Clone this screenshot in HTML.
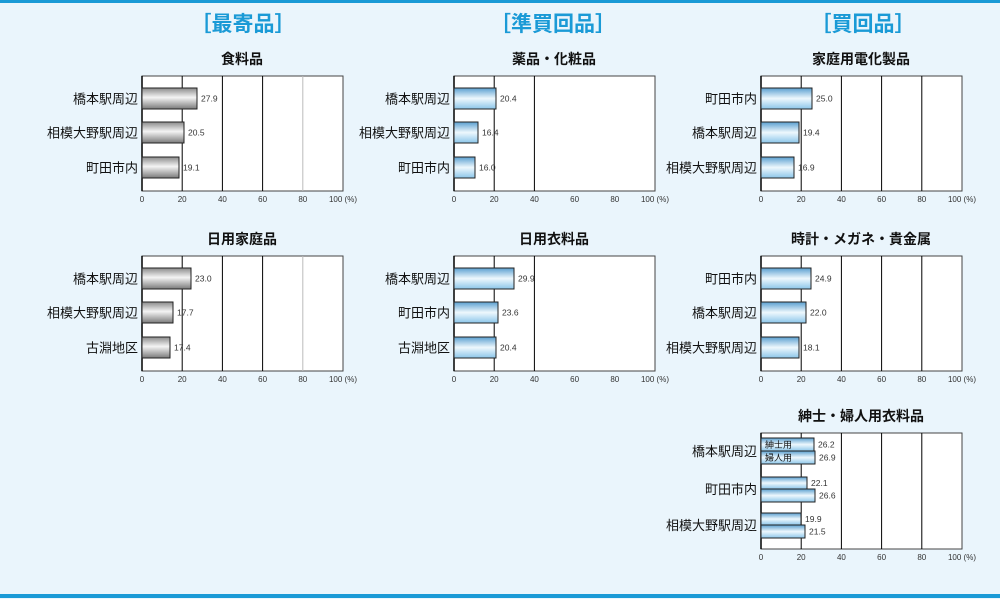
<!DOCTYPE html>
<html><head><meta charset="utf-8"><style>
body{margin:0;width:1000px;height:599px;background:#eaf5fc;overflow:hidden}
svg{display:block}
</style></head><body>
<svg id="s" width="1000" height="599" xmlns="http://www.w3.org/2000/svg" font-family="'Liberation Sans','Noto Sans CJK JP',sans-serif">
<defs>
<linearGradient id="g" x1="0" y1="0" x2="0" y2="1"><stop offset="0" stop-color="#8a8a8a"/><stop offset="0.45" stop-color="#f4f4f4"/><stop offset="1" stop-color="#7a7a7a"/></linearGradient>
<linearGradient id="b" x1="0" y1="0" x2="0" y2="1"><stop offset="0" stop-color="#5a9fd0"/><stop offset="0.5" stop-color="#eef8fd"/><stop offset="1" stop-color="#8cc6ea"/></linearGradient>
</defs>
<rect x="0" y="0" width="1000" height="3" fill="#1a9ad6"/>
<rect x="0" y="594" width="1000" height="4" fill="#1a9ad6"/>
<text x="243" y="31" font-size="21" fill="#1a9ad6" font-weight="bold" text-anchor="middle">［最寄品］</text>
<text x="553" y="31" font-size="21" fill="#1a9ad6" font-weight="bold" text-anchor="middle">［準買回品］</text>
<text x="863" y="31" font-size="21" fill="#1a9ad6" font-weight="bold" text-anchor="middle">［買回品］</text>
</svg>
<script>
var s=document.getElementById('s'),NS='http://www.w3.org/2000/svg';
function el(t,a,txt){var e=document.createElementNS(NS,t);for(var k in a)e.setAttribute(k,a[k]);if(txt!=null)e.textContent=txt;s.appendChild(e);return e;}
function chart(x,y,h,title,grid,bars,fill){
 el('text',{x:x+100,y:y-12,'font-size':14,'text-anchor':'middle',fill:'#111','font-weight':'bold'},title);
 el('rect',{x:x,y:y,width:201,height:h,fill:'#fff',stroke:'#444','stroke-width':1});
 grid.forEach(function(g,i){if(g)el('line',{x1:x+40.2*(i+1),x2:x+40.2*(i+1),y1:y,y2:y+h,stroke:g,'stroke-width':1});});
 el('line',{x1:x,x2:x,y1:y,y2:y+h,stroke:'#000','stroke-width':1.5});
 for(var i=0;i<=5;i++)el('text',{x:x+40.2*i,y:y+h+11,'font-size':8,'text-anchor':'middle',fill:'#333'},String(i*20)+(i==5?' (%)':''));
 bars.forEach(function(b){
  el('rect',{x:x,y:b[1],width:b[0]-x,height:b[2],fill:fill,stroke:'#222','stroke-width':1});
  el('text',{x:b[0]+4,y:b[1]+b[2]/2+3,'font-size':8.5,fill:'#333'},b[3]);
  if(b[4])el('text',{x:x-4,y:b[1]+b[2]/2+5,'font-size':13,'text-anchor':'end',fill:'#111'},b[4]);
 });
}
var G1=['#000','#000','#000','#bbb'],G2=['#000','#000',null,null],G3=['#000','#000','#000','#000'];
function three(x,y,ends,vals,labs,fill,grid){chart(x,y,115,arguments[7],grid,[[ends[0],y+12,21,vals[0],labs[0]],[ends[1],y+46,21,vals[1],labs[1]],[ends[2],y+81,21,vals[2],labs[2]]],fill);}
three(142,76,[197,184,179],['27.9','20.5','19.1'],['橋本駅周辺','相模大野駅周辺','町田市内'],'url(#g)',G1,'食料品');
three(454,76,[496,478,475],['20.4','16.4','16.0'],['橋本駅周辺','相模大野駅周辺','町田市内'],'url(#b)',G2,'薬品・化粧品');
three(761,76,[812,799,794],['25.0','19.4','16.9'],['町田市内','橋本駅周辺','相模大野駅周辺'],'url(#b)',G3,'家庭用電化製品');
three(142,256,[191,173,170],['23.0','17.7','17.4'],['橋本駅周辺','相模大野駅周辺','古淵地区'],'url(#g)',G1,'日用家庭品');
three(454,256,[514,498,496],['29.9','23.6','20.4'],['橋本駅周辺','町田市内','古淵地区'],'url(#b)',G2,'日用衣料品');
three(761,256,[811,806,799],['24.9','22.0','18.1'],['町田市内','橋本駅周辺','相模大野駅周辺'],'url(#b)',G3,'時計・メガネ・貴金属');
chart(761,433,116,'紳士・婦人用衣料品',G3,[
[814,438,13,'26.2'],[815,451,13,'26.9'],[807,477,12,'22.1'],[815,489,13,'26.6'],[801,513,12,'19.9'],[805,525,13,'21.5']],'url(#b)');
[['橋本駅周辺',451],['町田市内',489],['相模大野駅周辺',525]].forEach(function(l){el('text',{x:757,y:l[1]+5,'font-size':13,'text-anchor':'end',fill:'#111'},l[0]);});
el('text',{x:765,y:448,'font-size':9,fill:'#111'},'紳士用');
el('text',{x:765,y:461,'font-size':9,fill:'#111'},'婦人用');
</script>
</body></html>
